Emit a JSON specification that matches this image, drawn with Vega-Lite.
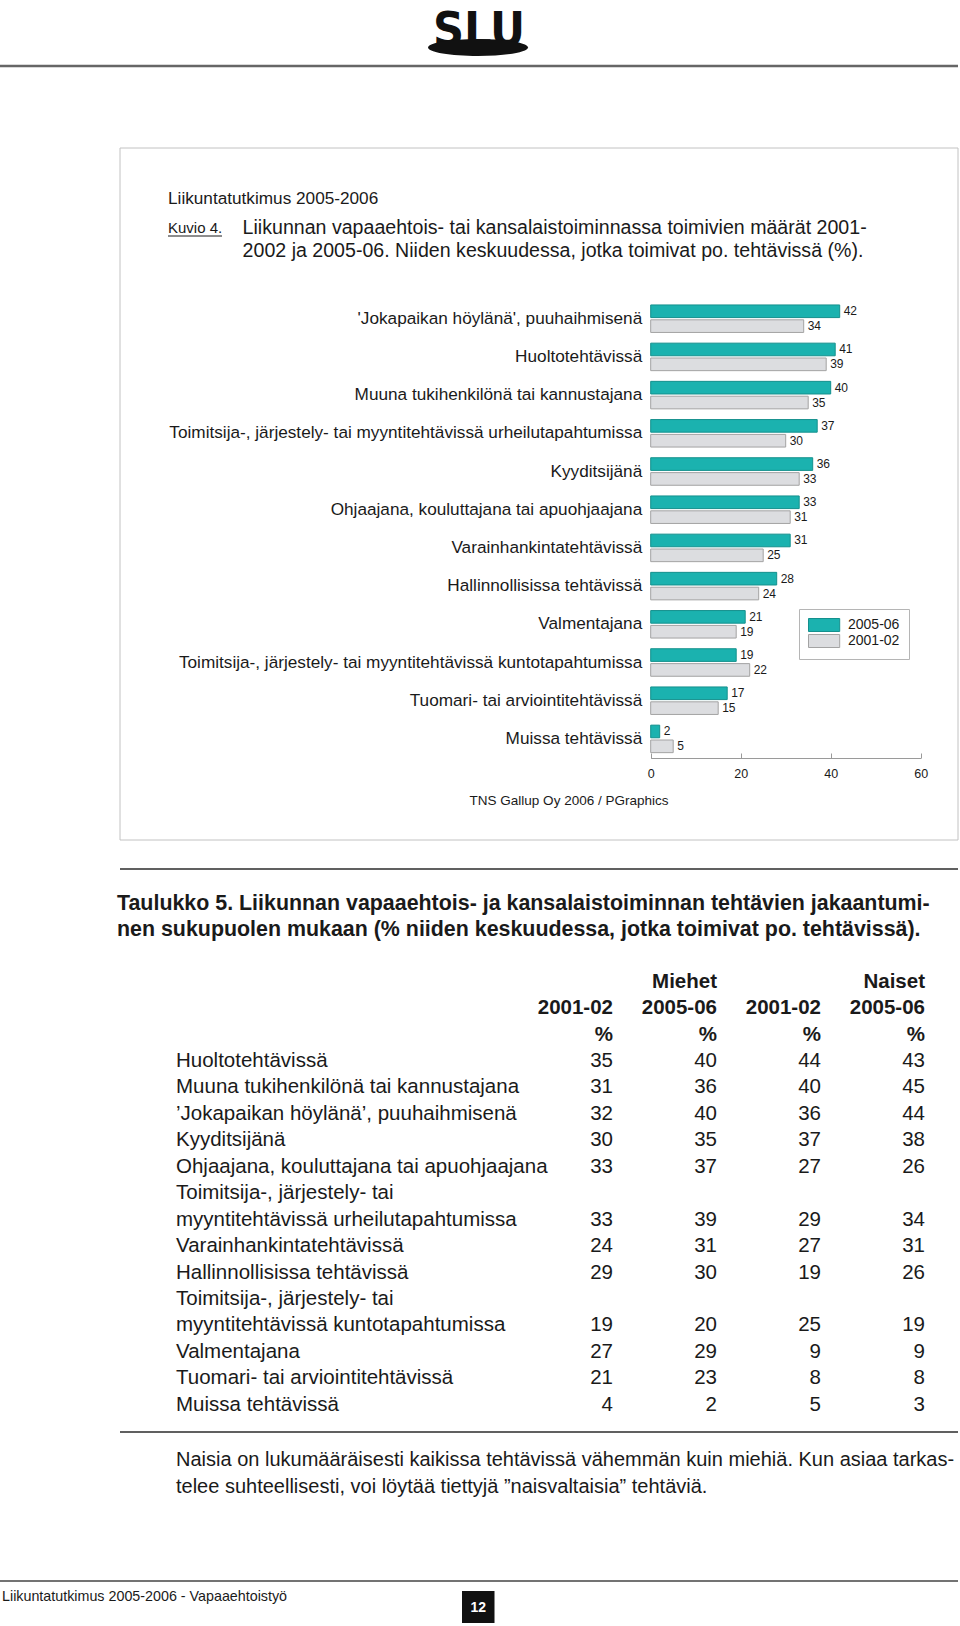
{
  "$schema": "https://vega.github.io/schema/vega-lite/v6.json",
  "width": 960,
  "height": 1626,
  "autosize": "none",
  "padding": 0,
  "background": "#ffffff",
  "config": {
    "font": "Liberation Sans",
    "view": {"stroke": null},
    "text": {"font": "Liberation Sans", "color": "#1a1a1a"}
  },
  "datasets": {
    "bars": [
      {"task": "'Jokapaikan höylänä', puuhaihmisenä", "period": "2005-06", "value": 42},
      {"task": "'Jokapaikan höylänä', puuhaihmisenä", "period": "2001-02", "value": 34},
      {"task": "Huoltotehtävissä", "period": "2005-06", "value": 41},
      {"task": "Huoltotehtävissä", "period": "2001-02", "value": 39},
      {"task": "Muuna tukihenkilönä tai kannustajana", "period": "2005-06", "value": 40},
      {"task": "Muuna tukihenkilönä tai kannustajana", "period": "2001-02", "value": 35},
      {"task": "Toimitsija-, järjestely- tai myyntitehtävissä urheilutapahtumissa", "period": "2005-06", "value": 37},
      {"task": "Toimitsija-, järjestely- tai myyntitehtävissä urheilutapahtumissa", "period": "2001-02", "value": 30},
      {"task": "Kyyditsijänä", "period": "2005-06", "value": 36},
      {"task": "Kyyditsijänä", "period": "2001-02", "value": 33},
      {"task": "Ohjaajana, kouluttajana tai apuohjaajana", "period": "2005-06", "value": 33},
      {"task": "Ohjaajana, kouluttajana tai apuohjaajana", "period": "2001-02", "value": 31},
      {"task": "Varainhankintatehtävissä", "period": "2005-06", "value": 31},
      {"task": "Varainhankintatehtävissä", "period": "2001-02", "value": 25},
      {"task": "Hallinnollisissa tehtävissä", "period": "2005-06", "value": 28},
      {"task": "Hallinnollisissa tehtävissä", "period": "2001-02", "value": 24},
      {"task": "Valmentajana", "period": "2005-06", "value": 21},
      {"task": "Valmentajana", "period": "2001-02", "value": 19},
      {"task": "Toimitsija-, järjestely- tai myyntitehtävissä kuntotapahtumissa", "period": "2005-06", "value": 19},
      {"task": "Toimitsija-, järjestely- tai myyntitehtävissä kuntotapahtumissa", "period": "2001-02", "value": 22},
      {"task": "Tuomari- tai arviointitehtävissä", "period": "2005-06", "value": 17},
      {"task": "Tuomari- tai arviointitehtävissä", "period": "2001-02", "value": 15},
      {"task": "Muissa tehtävissä", "period": "2005-06", "value": 2},
      {"task": "Muissa tehtävissä", "period": "2001-02", "value": 5}
    ],
    "table": [
      {"r": 4, "label": "Huoltotehtävissä", "M0102": 35, "M0506": 40, "N0102": 44, "N0506": 43},
      {"r": 5, "label": "Muuna tukihenkilönä tai kannustajana", "M0102": 31, "M0506": 36, "N0102": 40, "N0506": 45},
      {"r": 6, "label": "’Jokapaikan höylänä’, puuhaihmisenä", "M0102": 32, "M0506": 40, "N0102": 36, "N0506": 44},
      {"r": 7, "label": "Kyyditsijänä", "M0102": 30, "M0506": 35, "N0102": 37, "N0506": 38},
      {"r": 8, "label": "Ohjaajana, kouluttajana tai apuohjaajana", "M0102": 33, "M0506": 37, "N0102": 27, "N0506": 26},
      {"r": 9, "label": "Toimitsija-, järjestely- tai", "M0102": null, "M0506": null, "N0102": null, "N0506": null},
      {"r": 10, "label": "myyntitehtävissä urheilutapahtumissa", "M0102": 33, "M0506": 39, "N0102": 29, "N0506": 34},
      {"r": 11, "label": "Varainhankintatehtävissä", "M0102": 24, "M0506": 31, "N0102": 27, "N0506": 31},
      {"r": 12, "label": "Hallinnollisissa tehtävissä", "M0102": 29, "M0506": 30, "N0102": 19, "N0506": 26},
      {"r": 13, "label": "Toimitsija-, järjestely- tai", "M0102": null, "M0506": null, "N0102": null, "N0506": null},
      {"r": 14, "label": "myyntitehtävissä kuntotapahtumissa", "M0102": 19, "M0506": 20, "N0102": 25, "N0506": 19},
      {"r": 15, "label": "Valmentajana", "M0102": 27, "M0506": 29, "N0102": 9, "N0506": 9},
      {"r": 16, "label": "Tuomari- tai arviointitehtävissä", "M0102": 21, "M0506": 23, "N0102": 8, "N0506": 8},
      {"r": 17, "label": "Muissa tehtävissä", "M0102": 4, "M0506": 2, "N0102": 5, "N0506": 3}
    ],
    "header": [
      {"r": 1, "col": "M0506", "t": "Miehet"},
      {"r": 1, "col": "N0506", "t": "Naiset"},
      {"r": 2, "col": "M0102", "t": "2001-02"},
      {"r": 2, "col": "M0506", "t": "2005-06"},
      {"r": 2, "col": "N0102", "t": "2001-02"},
      {"r": 2, "col": "N0506", "t": "2005-06"},
      {"r": 3, "col": "M0102", "t": "%"},
      {"r": 3, "col": "M0506", "t": "%"},
      {"r": 3, "col": "N0102", "t": "%"},
      {"r": 3, "col": "N0506", "t": "%"}
    ]
  },
  "resolve": {
    "scale": {"x": "independent", "y": "independent"},
    "axis": {"x": "independent", "y": "independent"}
  },
  "layer": [
    {
      "data": {"values": [{"k": 1}]},
      "mark": {"type": "rule", "stroke": "#666666", "strokeWidth": 2.5},
      "encoding": {"x": {"value": 0}, "x2": {"value": 958}, "y": {"value": 66}}
    },
    {
      "data": {"values": [{"t": "SLU"}]},
      "mark": {"type": "text", "font": "'DejaVu Sans Condensed', 'Liberation Sans', sans-serif", "fontWeight": "bold", "fontSize": 48, "align": "center", "baseline": "alphabetic", "color": "#111111"},
      "encoding": {"text": {"field": "t"}, "x": {"value": 479}, "y": {"value": 46}}
    },
    {
      "data": {"values": [{"k": 1}]},
      "mark": {"type": "point", "shape": "M-1,0A1,0.17,0,1,0,1,0A1,0.17,0,1,0,-1,0Z", "size": 10000, "filled": true, "color": "#111111", "opacity": 1},
      "encoding": {"x": {"value": 478}, "y": {"value": 47.5}}
    },
    {
      "data": {"values": [{"k": 1}]},
      "mark": {"type": "rect", "fill": null, "fillOpacity": 0, "stroke": "#c2c2c2", "strokeWidth": 1},
      "encoding": {"x": {"value": 120}, "x2": {"value": 958}, "y": {"value": 148}, "y2": {"value": 840}}
    },
    {
      "data": {"values": [{"t": "Liikuntatutkimus 2005-2006"}]},
      "mark": {"type": "text", "fontSize": 17.2, "align": "left", "baseline": "middle"},
      "encoding": {"text": {"field": "t"}, "x": {"value": 168}, "y": {"value": 198.5}}
    },
    {
      "data": {"values": [{"t": "Kuvio 4."}]},
      "mark": {"type": "text", "fontSize": 15, "align": "left", "baseline": "middle"},
      "encoding": {"text": {"field": "t"}, "x": {"value": 168}, "y": {"value": 228}}
    },
    {
      "data": {"values": [{"k": 1}]},
      "mark": {"type": "rule", "stroke": "#1a1a1a", "strokeWidth": 1},
      "encoding": {"x": {"value": 168}, "x2": {"value": 222}, "y": {"value": 236}}
    },
    {
      "data": {"values": [{"t": ["Liikunnan vapaaehtois- tai kansalaistoiminnassa toimivien määrät 2001-", "2002 ja 2005-06. Niiden keskuudessa, jotka toimivat po. tehtävissä (%)."]}]},
      "mark": {"type": "text", "fontSize": 19.6, "align": "left", "baseline": "middle", "lineHeight": 23},
      "encoding": {"text": {"field": "t"}, "x": {"value": 242.6}, "y": {"value": 228}}
    },
    {
      "data": {"name": "bars"},
      "encoding": {
        "y": {
          "field": "task", "type": "nominal", "sort": null,
          "scale": {"range": [299.6, 758], "paddingInner": 0.28, "paddingOuter": 0.14},
          "axis": {"orient": "left", "offset": -650.7, "domain": false, "ticks": false, "labelPadding": 9, "labelFontSize": 17.2, "labelColor": "#1a1a1a", "labelFont": "Liberation Sans", "labelLimit": 700, "title": null}
        },
        "yOffset": {"field": "period", "type": "nominal", "sort": ["2005-06", "2001-02"], "scale": {"paddingInner": 0.15}},
        "x": {
          "field": "value", "type": "quantitative",
          "scale": {"domain": [0, 60], "range": [650.7, 920.7], "nice": false, "zero": true},
          "axis": {"orient": "bottom", "offset": -868, "values": [0, 20, 40, 60], "tickSize": -5, "labelPadding": 14, "domainColor": "#9a9a9a", "tickColor": "#9a9a9a", "grid": false, "labelFontSize": 12.5, "labelColor": "#1a1a1a", "labelFlush": false, "title": null}
        }
      },
      "layer": [
        {
          "mark": {"type": "bar", "strokeWidth": 1},
          "encoding": {
            "fill": {
              "field": "period", "type": "nominal",
              "scale": {"domain": ["2005-06", "2001-02"], "range": ["#1bb2af", "#dcdde0"]},
              "legend": {"orient": "none", "legendX": 799, "legendY": 609, "title": null, "direction": "vertical", "strokeColor": "#b5b5b5", "padding": 9, "symbolType": "M-1,-1H3.8V1H-1Z", "symbolSize": 169, "symbolStrokeColor": "#999999", "symbolStrokeWidth": 1, "labelFontSize": 14, "labelOffset": 26, "rowPadding": -3.5, "labelColor": "#1a1a1a"}
            },
            "stroke": {
              "field": "period", "type": "nominal",
              "scale": {"domain": ["2005-06", "2001-02"], "range": ["#14908d", "#a3a3a3"]},
              "legend": null
            }
          }
        },
        {
          "mark": {"type": "text", "align": "left", "baseline": "middle", "dx": 4, "fontSize": 12, "color": "#1a1a1a"},
          "encoding": {"text": {"field": "value", "type": "quantitative"}}
        }
      ]
    },
    {
      "data": {"values": [{"t": "TNS Gallup Oy 2006 / PGraphics"}]},
      "mark": {"type": "text", "fontSize": 13.5, "align": "left", "baseline": "middle"},
      "encoding": {"text": {"field": "t"}, "x": {"value": 469.6}, "y": {"value": 801}}
    },
    {
      "data": {"values": [{"k": 1}]},
      "mark": {"type": "rule", "stroke": "#2b2b2b", "strokeWidth": 1.5},
      "encoding": {"x": {"value": 120}, "x2": {"value": 958}, "y": {"value": 869}}
    },
    {
      "data": {"values": [{"t": ["Taulukko 5. Liikunnan vapaaehtois- ja kansalaistoiminnan tehtävien jakaantumi-", "nen sukupuolen mukaan (% niiden keskuudessa, jotka toimivat po. tehtävissä)."]}]},
      "mark": {"type": "text", "fontSize": 21.4, "fontWeight": "bold", "align": "left", "baseline": "middle", "lineHeight": 26},
      "encoding": {"text": {"field": "t"}, "x": {"value": 117}, "y": {"value": 904}}
    },
    {
      "encoding": {
        "y": {"field": "r", "type": "ordinal", "scale": {"type": "point", "domain": [1, 2, 3, 4, 5, 6, 7, 8, 9, 10, 11, 12, 13, 14, 15, 16, 17], "range": [981.7, 1404.8], "padding": 0}, "axis": null}
      },
      "layer": [
        {
          "data": {"name": "header"},
          "mark": {"type": "text", "fontSize": 20.5, "fontWeight": "bold", "align": "right", "baseline": "middle"},
          "encoding": {
            "x": {"field": "col", "type": "nominal", "scale": {"type": "point", "domain": ["M0102", "M0506", "N0102", "N0506"], "range": [613, 925], "padding": 0}, "axis": null},
            "text": {"field": "t"}
          }
        },
        {
          "data": {"name": "table"},
          "transform": [
            {"fold": ["M0102", "M0506", "N0102", "N0506"], "as": ["col", "v"]},
            {"filter": "isValid(datum.v)"}
          ],
          "mark": {"type": "text", "fontSize": 20.5, "align": "right", "baseline": "middle"},
          "encoding": {
            "x": {"field": "col", "type": "nominal", "axis": null},
            "text": {"field": "v", "type": "quantitative"}
          }
        },
        {
          "data": {"name": "table"},
          "mark": {"type": "text", "fontSize": 20.5, "align": "left", "baseline": "middle"},
          "encoding": {
            "x": {"value": 176},
            "text": {"field": "label"}
          }
        }
      ]
    },
    {
      "data": {"values": [{"k": 1}]},
      "mark": {"type": "rule", "stroke": "#2b2b2b", "strokeWidth": 1.5},
      "encoding": {"x": {"value": 120}, "x2": {"value": 958}, "y": {"value": 1432}}
    },
    {
      "data": {"values": [{"t": ["Naisia on lukumääräisesti kaikissa tehtävissä vähemmän kuin miehiä. Kun asiaa tarkas-", "telee suhteellisesti, voi löytää tiettyjä ”naisvaltaisia” tehtäviä."]}]},
      "mark": {"type": "text", "fontSize": 20, "align": "left", "baseline": "middle", "lineHeight": 27},
      "encoding": {"text": {"field": "t"}, "x": {"value": 176}, "y": {"value": 1459.8}}
    },
    {
      "data": {"values": [{"k": 1}]},
      "mark": {"type": "rule", "stroke": "#444444", "strokeWidth": 1.5},
      "encoding": {"x": {"value": 0}, "x2": {"value": 958}, "y": {"value": 1581}}
    },
    {
      "data": {"values": [{"t": "Liikuntatutkimus 2005-2006 - Vapaaehtoistyö"}]},
      "mark": {"type": "text", "fontSize": 14.3, "align": "left", "baseline": "middle"},
      "encoding": {"text": {"field": "t"}, "x": {"value": 2}, "y": {"value": 1597}}
    },
    {
      "data": {"values": [{"k": 1}]},
      "mark": {"type": "rect", "fill": "#111111"},
      "encoding": {"x": {"value": 462}, "x2": {"value": 494.5}, "y": {"value": 1591}, "y2": {"value": 1623}}
    },
    {
      "data": {"values": [{"t": "12"}]},
      "mark": {"type": "text", "fontSize": 14, "fontWeight": "bold", "align": "center", "baseline": "middle", "color": "#ffffff"},
      "encoding": {"text": {"field": "t"}, "x": {"value": 478.2}, "y": {"value": 1608}}
    }
  ]
}
